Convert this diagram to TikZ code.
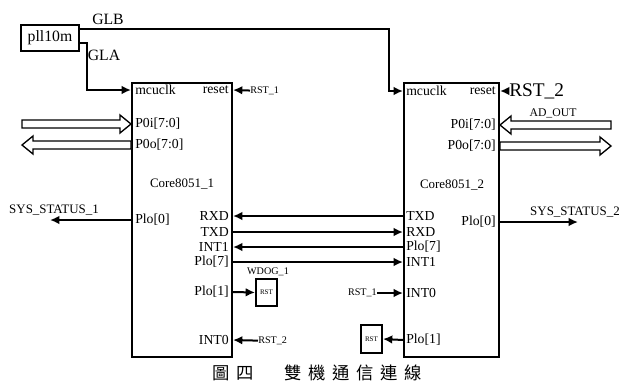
\documentclass[tikz,border=0pt]{standalone}
\usepackage{fontspec}
\setmainfont{Liberation Serif}
\newfontfamily\cjk{Noto Sans CJK TC}
\usetikzlibrary{arrows.meta,calc}

\newcommand{\fs}[1]{\fontsize{#1}{#1}\selectfont}
\newcommand{\gap}{\hspace{5pt}}

\tikzset{
  chip/.style={draw, line width=1.5pt},
  sig/.style={line width=1.5pt, -{Latex[length=7pt,width=6.5pt]}},
  pinl/.style={anchor=west, font=\fs{10.3}},
  pinr/.style={anchor=east, font=\fs{10.3}},
  tag/.style={font=\fs{7.6}},
  busarrow/.style={line width=1pt, fill=white, to path={let \p1=(\tikztostart), \p2=(\tikztotarget), \n1={sign(\x2-\x1)} in
    (\x1,\y1+3pt) -- (\x2-\n1*8.25pt,\y1+3pt) -- (\x2-\n1*8.25pt,\y1+6.75pt) -- (\x2,\y1)
    -- (\x2-\n1*8.25pt,\y1-6.75pt) -- (\x2-\n1*8.25pt,\y1-3pt) -- (\x1,\y1-3pt) -- cycle}}
}

\begin{document}
\begin{tikzpicture}[x=0.75pt, y=-0.75pt, every node/.style={inner sep=0pt}]
\useasboundingbox (0,0) rectangle (622,383);

\node[chip, minimum width=43.5pt, minimum height=19.5pt, font=\fs{11.8}] (pll) at (50,38) {pll10m};
\node[chip, minimum width=75pt, minimum height=205.5pt] (core1) at (182,220) {};
\node[chip, minimum width=71.25pt, minimum height=205.5pt] (core2) at (451.5,220) {};
\node[font=\fs{9.7}] (name1) at (182,184) {Core8051\_1};
\node[font=\fs{9.7}] (name2) at (452,185) {Core8051\_2};

% core 1 pins
\node[pinl] (c1clk) at (135,90) {mcuclk};
\node[pinr] (c1rst) at (229,90) {reset};
\node[pinl] (c1p0i) at (135,124) {P0i[7:0]};
\node[pinl] (c1p0o) at (135,145) {P0o[7:0]};
\node[pinl] (c1plo0) at (135,220) {Plo[0]};
\foreach \n/\t/\y in {rxd/RXD/216, txd/TXD/232, int1/INT1/247, plo7/Plo[7]/262, plo1/Plo[1]/292, int0/INT0/340}
  \node[pinr] (c1\n) at (229,\y) {\t};

% core 2 pins
\node[pinl] (c2clk) at (406,91) {mcuclk};
\node[pinr] (c2rst) at (496,91) {reset};
\node[pinr] (c2p0i) at (496,125) {P0i[7:0]};
\node[pinr] (c2p0o) at (496,146) {P0o[7:0]};
\node[pinr] (c2plo0) at (496,222) {Plo[0]};
\foreach \n/\t/\y in {txd/TXD/216, rxd/RXD/232, plo7/Plo[7]/247, int1/INT1/262, int0/INT0/293, plo1/Plo[1]/340}
  \node[pinl] (c2\n) at (406,\y) {\t};

% clocks
\node[font=\fs{11.8}] (glb) at (108,19) {GLB};
\node[font=\fs{11.8}] (gla) at (104,55) {GLA};
\draw[sig] ([yshift=6.75pt]pll.east) -| ($(core2.west |- c2clk)+(-14,0)$) -- (core2.west |- c2clk);
\draw[sig] ([yshift=-3.75pt]pll.east) -- ++(7,0) |- (core1.west |- c1clk);

% resets
\node[tag, anchor=west] (rst1a) at (250,91) {RST\_1};
\draw[sig] (rst1a) -- (core1.east |- c1rst);
\node[font=\fs{14.5}, anchor=west] (rst2a) at (509,91) {RST\_2};
\draw[sig] (rst2a) -- (core2.east |- c2rst);

% buses
\coordinate (busa) at (22,124);
\coordinate (busb) at (22,145);
\coordinate (busc) at (611,125);
\coordinate (busd) at (611,146);
\draw[busarrow] (busa) to (core1.west |- c1p0i);
\draw[busarrow] (core1.west |- c1p0o) to (busb);
\draw[busarrow] (busc) to (core2.east |- c2p0i);
\draw[busarrow] (core2.east |- c2p0o) to (busd);
\node[font=\fs{8.8}] (adout) at (553,113) {AD\_OUT};

% status
\node[font=\fs{9.7}] (st1) at (54,210) {SYS\_STATUS\_1};
\coordinate (st1end) at (50,220);
\draw[sig] (core1.west |- c1plo0) -- (st1end);
\node[font=\fs{9.7}] (st2) at (575,212) {SYS\_STATUS\_2};
\coordinate (st2end) at (578,222);
\draw[sig] (core2.east |- c2plo0) -- (st2end);

% serial link
\draw[sig] (core2.west |- c2txd) -- (core1.east |- c1rxd);
\draw[sig] (core1.east |- c1txd) -- (core2.west |- c2rxd);
\draw[sig] (core2.west |- c2plo7) -- (core1.east |- c1int1);
\draw[sig] (core1.east |- c1plo7) -- (core2.west |- c2int1);

% watchdog
\node[chip, minimum width=15.75pt, minimum height=20.25pt, font=\fs{5.3}] (wdog) at (266.5,292.5) {RST};
\node[tag] (wdogname) at (268,272) {WDOG\_1};
\draw[sig] (core1.east |- c1plo1) -- (wdog.west);
\node[chip, minimum width=15.75pt, minimum height=21pt, font=\fs{5.3}] (rstbox) at (371.5,339) {RST};
\draw[sig] (core2.west |- c2plo1) -- (rstbox.east);

\node[tag, anchor=west] (rst2b) at (258,341) {RST\_2};
\draw[sig] (rst2b) -- (core1.east |- c1int0);
\node[tag, anchor=east] (rst1b) at (377,293) {RST\_1};
\draw[sig] (rst1b) -- (core2.west |- c2int0);

\node[font=\cjk\fs{13}] (cap) at (317,373) {圖\gap 四\gap\hspace{13pt}\gap 雙\gap 機\gap 通\gap 信\gap 連\gap 線};
\end{tikzpicture}
\end{document}
